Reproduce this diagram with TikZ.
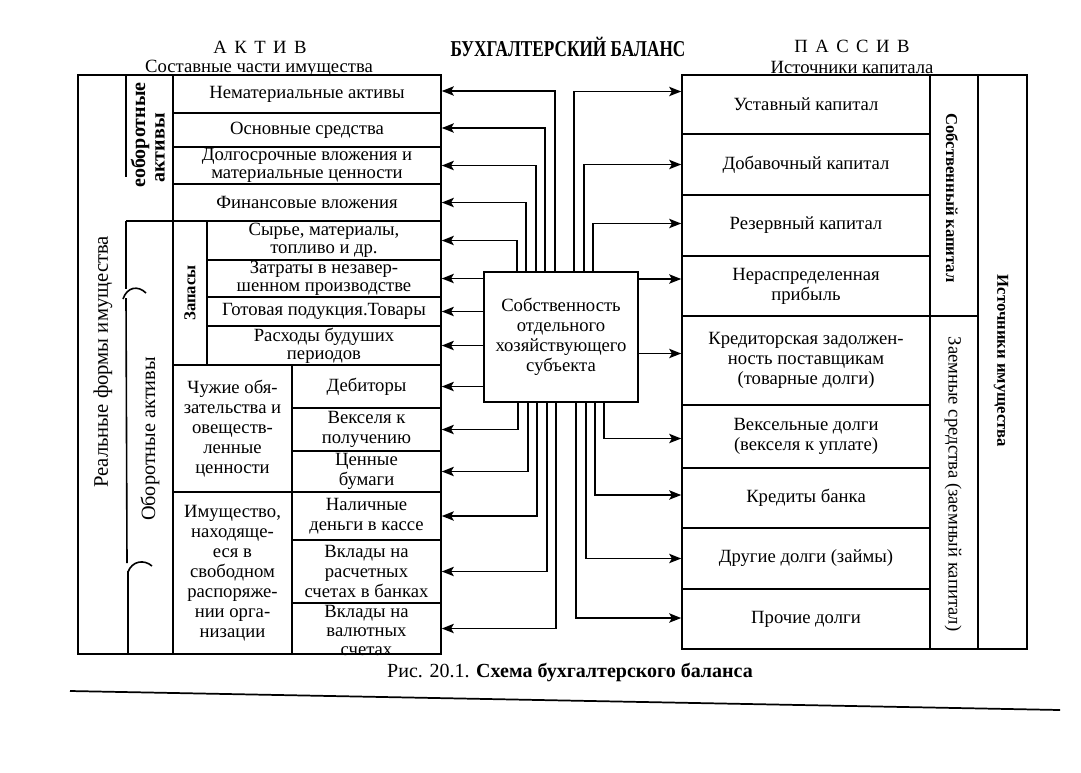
\documentclass[tikz,border=0pt]{standalone}
\usepackage{fontspec}
\setmainfont{Liberation Serif}
\newfontfamily\condfont[FakeStretch=0.76]{Liberation Serif}
\usetikzlibrary{arrows.meta,calc}
\tikzset{
  ln/.style={line width=1.2pt},
  cell/.style={draw, line width=1.2pt, inner sep=0pt, align=center, font=\fontsize{14}{15}\selectfont},
  tight/.style={font=\fontsize{14}{13.3}\selectfont},
  vtext/.style={inner sep=0pt, align=center, font=\fontsize{14}{15}\selectfont},
  head/.style={inner sep=0pt, font=\fontsize{14}{15}\selectfont},
  arr/.style={line width=1.2pt, -{Stealth[length=9pt,width=7pt,inset=2pt]}},
}
% box from (x1,y1) to (x2,y2), in pixels
\newcommand\cellat[6]{\node[cell, minimum width={(#4-#2)*0.75pt}, minimum height={(#5-#3)*0.75pt}, #6] (#1) at ({(#2+#4)/2},{(#3+#5)/2})}
\newcommand\areaat[5]{\node[inner sep=0pt, minimum width={(#4-#2)*0.75pt}, minimum height={(#5-#3)*0.75pt}] (#1) at ({(#2+#4)/2},{(#3+#5)/2}) {}}
\begin{document}
\begin{tikzpicture}[x=0.75pt,y=-0.75pt]
\useasboundingbox (0,0) rectangle (1081,772);
\fill[white] (0,0) rectangle (1081,772);

% headings
\node[head] (hakt) at (260,47) {А\hspace{0.4em}К\hspace{0.4em}Т\hspace{0.4em}И\hspace{0.4em}В};
\node[head] (hsost) at (259,68) {Составные части имущества};
\node[head, font=\condfont\bfseries\fontsize{17}{18}\selectfont] (hbal) at (568,47) {БУХГАЛТЕРСКИЙ БАЛАНС};
\node[head] (hpas) at (852,46) {П\hspace{0.4em}А\hspace{0.4em}С\hspace{0.4em}С\hspace{0.4em}И\hspace{0.4em}В};
\node[head] (hist) at (852,67) {Источники капитала};

% left outer frame and first two columns
\draw[ln] (441,75) -- (78,75) -- (78,654) -- (441,654);
\draw[ln] (126,75) -- (126,177);
\draw[ln] (126,221) -- (173,221);
\draw[ln] (126,221) -- (126,289);
\draw[ln] (123,299) .. controls (127,287) and (138,285) .. (146,293);
\draw[ln] (126,298) -- (127,563);
\draw[ln] (128,572) .. controls (132,561) and (144,559) .. (152,566);
\draw[ln] (128,571) -- (128,654);

\areaat{rf}{78}{75}{126}{654};
\node[vtext, rotate=90, font=\fontsize{15.5}{16}\selectfont] (rft) at (103,362) {Реальные формы имущества};
\areaat{vn}{126}{75}{173}{221};
\node[vtext, rotate=90, font=\bfseries\fontsize{15}{16}\selectfont] (vnt1) at (140,135) {еоборотные};
\node[vtext, rotate=90, font=\bfseries\fontsize{15}{16}\selectfont] (vnt2) at (160,148) {активы};
\areaat{ob}{126}{221}{173}{654};
\node[vtext, rotate=90, font=\fontsize{15.2}{16}\selectfont] (obt) at (150,439) {Оборотные активы};

% left cells
\cellat{a1}{173}{75}{441}{113}{} {Нематериальные активы};
\cellat{a2}{173}{113}{441}{147}{} {Основные средства};
\cellat{a3}{173}{147}{441}{184}{tight} {Долгосрочные вложения и\\материальные ценности};
\cellat{a4}{173}{184}{441}{221}{} {Финансовые вложения};
\cellat{zap}{173}{221}{207}{365}{} {};
\node[vtext, rotate=90, font=\bfseries\fontsize{12.5}{13}\selectfont] (zapt) at (zap.center) {Запасы};
\cellat{a5}{207}{221}{441}{260}{tight} {Сырье, материалы,\\топливо и др.};
\cellat{a6}{207}{260}{441}{297}{tight} {Затраты в незавер-\\шенном производстве};
\cellat{a7}{207}{297}{441}{326}{} {Готовая подукция.Товары};
\cellat{a8}{207}{326}{441}{365}{tight} {Расходы будуших\\периодов};
\cellat{ch}{173}{365}{292}{492}{} {Чужие обя-\\зательства и\\овеществ-\\ленные\\ценности};
\cellat{a9}{292}{365}{441}{408}{} {Дебиторы};
\cellat{a10}{292}{408}{441}{451}{} {Векселя к\\получению};
\cellat{a11}{292}{451}{441}{492}{} {Ценные\\бумаги};
\cellat{im}{173}{492}{292}{654}{} {Имущество,\\находяще-\\еся в\\свободном\\распоряже-\\нии орга-\\низации};
\cellat{a12}{292}{492}{441}{540}{} {Наличные\\деньги в кассе};
\cellat{a13}{292}{540}{441}{603}{} {Вклады на\\расчетных\\счетах в банках};
\cellat{a14}{292}{603}{441}{654}{} {};
\node[vtext, font=\fontsize{14}{14.3}\selectfont] (a14t) at ($(a14.center)+(0,2)$) {Вклады на\\валютных\\счетах};

% centre box
\cellat{cb}{484}{272}{638}{402}{} {Собственность\\отдельного\\хозяйствующего\\субъекта};

% right cells
\cellat{p1}{682}{75}{930}{134}{} {Уставный капитал};
\cellat{p2}{682}{134}{930}{195}{} {Добавочный капитал};
\cellat{p3}{682}{195}{930}{256}{} {Резервный капитал};
\cellat{p4}{682}{256}{930}{316}{} {Нераспределенная\\прибыль};
\cellat{p5}{682}{316}{930}{405}{} {Кредиторская задолжен-\\ность поставщикам\\(товарные долги)};
\cellat{p6}{682}{405}{930}{468}{} {Вексельные долги\\(векселя к уплате)};
\cellat{p7}{682}{468}{930}{528}{} {Кредиты банка};
\cellat{p8}{682}{528}{930}{589}{} {Другие долги (займы)};
\cellat{p9}{682}{589}{930}{649}{} {Прочие долги};
\cellat{sk}{930}{75}{978}{316}{} {};
\node[vtext, rotate=-90, font=\bfseries\fontsize{12.5}{13}\selectfont] (skt) at (952,198) {Собственный капитал};
\cellat{zk}{930}{316}{978}{649}{} {};
\node[vtext, rotate=-90] (zkt) at (953,484) {Заемные средства (заемный капитал)};
\cellat{ii}{978}{75}{1027}{649}{} {};
\node[vtext, rotate=-90, font=\bfseries\fontsize{12.5}{13}\selectfont] (iit) at (1001,361) {Источники имущества};

% arrows to the left
\draw[arr] ($(cb.north west)+(72,0)$) |- ($(a1.east)+(0,-3)$);
\draw[arr] ($(cb.north west)+(62,0)$) |- ($(a2.east)+(0,-2)$);
\draw[arr] ($(cb.north west)+(53,0)$) |- (a3.east);
\draw[arr] ($(cb.north west)+(43,0)$) |- (a4.east);
\draw[arr] ($(cb.north west)+(34,0)$) |- (a5.east);
\draw[arr] (cb.west |- a6.east) -- (a6.east);
\draw[arr] (cb.west |- a7.east) -- (a7.east);
\draw[arr] (cb.west |- a8.east) -- (a8.east);
\draw[arr] (cb.west |- a9.east) -- (a9.east);
\draw[arr] ($(cb.south west)+(35,0)$) |- (a10.east);
\draw[arr] ($(cb.south west)+(45,0)$) |- (a11.east);
\draw[arr] ($(cb.south west)+(54,0)$) |- (a12.east);
\draw[arr] ($(cb.south west)+(64,0)$) |- (a13.east);
\draw[arr] ($(cb.south west)+(73,0)$) |- (a14.east);

% arrows to the right
\draw[arr] ($(cb.north west)+(91,0)$) |- ($(p1.west)+(0,-13)$);
\draw[arr] ($(cb.north west)+(101,0)$) |- (p2.west);
\draw[arr] ($(cb.north west)+(110,0)$) |- ($(p3.west)+(0,-2)$);
\draw[arr] (cb.east |- p4.west) ++(0,-7) -- ($(p4.west)+(0,-7)$);
\draw[arr] (cb.east |- p5.west) ++(0,-7) -- ($(p5.west)+(0,-7)$);
\draw[arr] ($(cb.south west)+(121,0)$) |- ($(p6.west)+(0,2)$);
\draw[arr] ($(cb.south west)+(112,0)$) |- ($(p7.west)+(0,-3)$);
\draw[arr] ($(cb.south west)+(103,0)$) |- (p8.west);
\draw[arr] ($(cb.south west)+(93,0)$) |- ($(p9.west)+(0,-1)$);

% caption and page rule
\node[head, font=\fontsize{15}{16}\selectfont] (cap) at (570,672) {Рис. 20.1. \textbf{Схема бухгалтерского баланса}};
\coordinate (r1) at (70,691);
\coordinate (r2) at (1060,710);
\draw[line width=1.3pt] (r1) -- (r2);
\end{tikzpicture}
\end{document}
